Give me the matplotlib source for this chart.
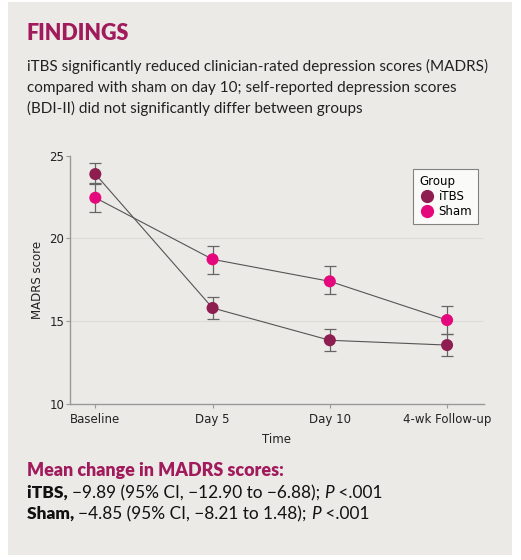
import matplotlib
matplotlib.use("Agg")
import matplotlib.pyplot as plt
from matplotlib.patches import Rectangle
from matplotlib.lines import Line2D

# ---- data ----
time_points = ["Baseline", "Day 5", "Day 10", "4-wk Follow-up"]
itbs_mean = [23.89, 15.80, 13.85, 13.56]
itbs_low = [23.29, 15.13, 13.22, 12.88]
itbs_high = [24.58, 16.44, 14.55, 14.21]
sham_mean = [22.46, 18.74, 17.41, 15.07]
sham_low = [21.58, 17.83, 16.64, 14.21]
sham_high = [23.37, 19.53, 18.32, 15.94]
y_ticks = [10, 15, 20, 25]

BG = "#ebeae6"
MAROON = "#8e1e50"
PINK = "#e5087c"
TITLE = "#a01a5c"

W, H = 521, 560
fig = plt.figure(figsize=(W / 100, H / 100), dpi=100)
fig.patch.set_facecolor("white")
fig.patches.append(Rectangle((8 / W, 1 - 555 / H), (512 - 8) / W, (555 - 2) / H,
                             transform=fig.transFigure, facecolor=BG, edgecolor="none", zorder=-5))

def fx(px):
    return px / W

def fy(py):
    return 1 - py / H

body_font = ["Lato", "DejaVu Sans"]

fig.text(fx(27), fy(40), "FINDINGS", fontsize=15.5, fontweight="heavy", color=TITLE,
         family=body_font, va="baseline")
lines = ["iTBS significantly reduced clinician-rated depression scores (MADRS)",
         "compared with sham on day 10; self-reported depression scores",
         "(BDI-II) did not significantly differ between groups"]
for i, ln in enumerate(lines):
    fig.text(fx(27), fy(71 + 21 * i), ln, fontsize=10.95, color="#222222",
             family=body_font, va="baseline")

# ---- axes ----
ax = fig.add_axes([fx(70), fy(404), fx(484) - fx(70), fy(155.7) - fy(404)])
ax.set_facecolor(BG)
ax.patch.set_alpha(0)
x = list(range(len(time_points)))

for i in x:
    ax.errorbar([i], [itbs_mean[i]], yerr=[[itbs_mean[i] - itbs_low[i]], [itbs_high[i] - itbs_mean[i]]],
                fmt="none", ecolor="#666666", elinewidth=0.9, capsize=4.5, capthick=0.9, zorder=3)
    ax.errorbar([i], [sham_mean[i]], yerr=[[sham_mean[i] - sham_low[i]], [sham_high[i] - sham_mean[i]]],
                fmt="none", ecolor="#666666", elinewidth=0.9, capsize=4.5, capthick=0.9, zorder=3)
ax.plot(x, itbs_mean, color="#555555", lw=0.8, zorder=2)
ax.plot(x, sham_mean, color="#555555", lw=0.8, zorder=2)
ax.scatter(x, itbs_mean, s=75, color=MAROON, zorder=4, edgecolors="none")
ax.scatter(x, sham_mean, s=75, color=PINK, zorder=4, edgecolors="none")

ax.set_xlim(-0.216, 3.315)
ax.set_ylim(10, 25)
ax.set_yticks(y_ticks)
ax.set_xticks(x)
ax.set_xticklabels(time_points)
for yv in [15, 20]:
    ax.axhline(yv, color="#dcdbd6", lw=0.8, zorder=1)
for s in ["top", "right"]:
    ax.spines[s].set_visible(False)
for s in ["left", "bottom"]:
    ax.spines[s].set_color("#999999")
    ax.spines[s].set_linewidth(1.0)
ax.tick_params(axis="both", colors="#999999", labelcolor="#222222", labelsize=8.5, length=3, width=0.8)
ax.tick_params(axis="y", pad=1)
ax.set_ylabel("MADRS score", fontsize=8.5, color="#222222", labelpad=4)
ax.set_xlabel("Time", fontsize=8.5, color="#222222", labelpad=5)

handles = [Line2D([], [], marker="o", ls="none", color=MAROON, markersize=8.5, label="iTBS"),
           Line2D([], [], marker="o", ls="none", color=PINK, markersize=8.5, label="Sham")]
leg = ax.legend(handles=handles, title="Group", loc="upper right", bbox_to_anchor=(0.986, 0.948),
                borderaxespad=0, fontsize=8.5, title_fontsize=8.5, frameon=True, fancybox=False,
                handletextpad=0.35, borderpad=0.5, labelspacing=0.2, handlelength=1.3)
leg.get_frame().set_edgecolor("#666666")
leg.get_frame().set_linewidth(0.8)
leg._legend_box.align = "left"

# ---- bottom text ----
fig.text(fx(27), fy(476), "Mean change in MADRS scores:", fontsize=12.9, fontweight="heavy",
         color=TITLE, family=body_font, va="baseline")

def rich(y, parts):
    prev = None
    for txt, weight, style in parts:
        kw = dict(fontsize=12.4, color="#111111", family=body_font, fontweight=weight, fontstyle=style)
        if prev is None:
            prev = fig.text(fx(27), fy(y), txt, va="bottom", **kw)
        else:
            prev = fig.add_artist(plt.Annotation(txt, xy=(1, 0), xycoords=prev, va="bottom", ha="left", **kw))

rich(501, [("iTBS, ", "heavy", "normal"),
           ("\u22129.89 (95% CI, \u221212.90 to \u22126.88); ", "normal", "normal"),
           ("P", "normal", "italic"),
           (" <.001", "normal", "normal")])
rich(522, [("Sham, ", "heavy", "normal"),
           ("\u22124.85 (95% CI, \u22128.21 to 1.48); ", "normal", "normal"),
           ("P", "normal", "italic"),
           (" <.001", "normal", "normal")])

fig.savefig("out.png", dpi=100, facecolor=fig.get_facecolor())
